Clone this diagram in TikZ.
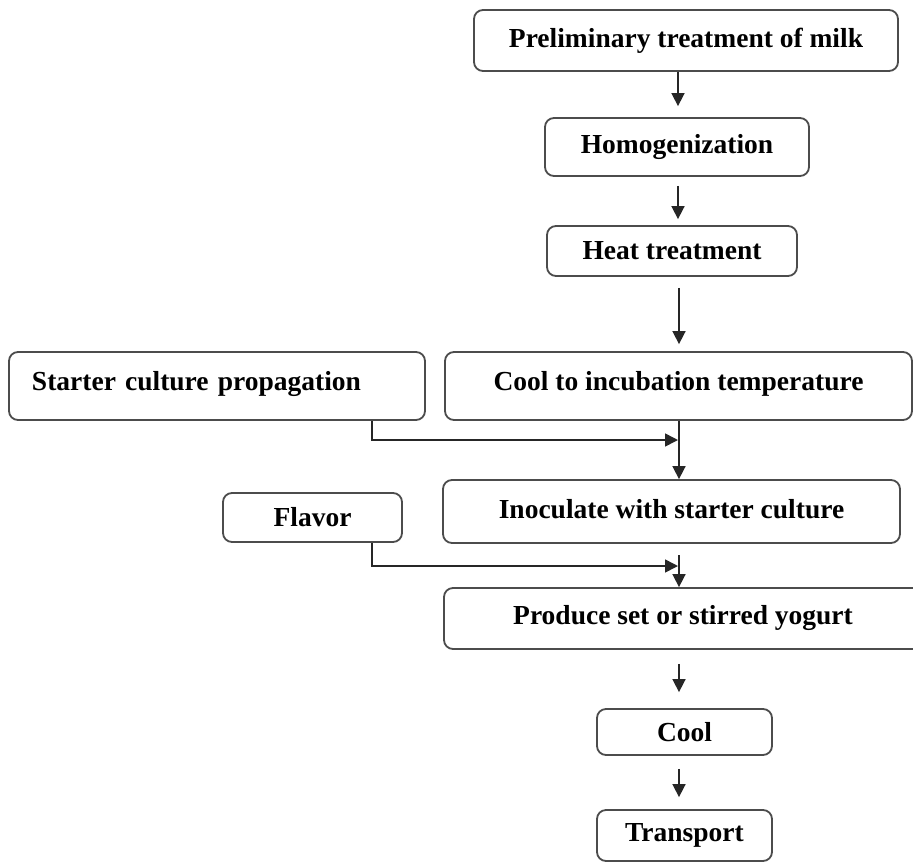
\documentclass[tikz,border=0pt]{standalone}
\usepackage{fontspec}
\setmainfont{Liberation Serif}
\usetikzlibrary{arrows.meta,calc}
\begin{document}
\begin{tikzpicture}[x=1pt,y=-1pt,
  box/.style={draw=black!70,line width=1.8pt,rounded corners=9pt,inner sep=0pt,
    font=\fontsize{27.5}{30}\selectfont\bfseries,text=black},
  arr/.style={draw=black!85,line width=1.6pt,-{Triangle[length=13pt,width=13pt]}},
  ln/.style={draw=black!85,line width=1.6pt}]
\useasboundingbox (0,0) rectangle (913,863);
\fill[white] (0,0) rectangle (913,863);
\coordinate (ax) at (678,0);
\coordinate (bx) at (679,0);
\coordinate (cx) at (372,0);
% boxes
\node[box,minimum width=424pt,minimum height=61pt] (p1) at (686,40.5) {Preliminary treatment of milk};
\node[box,minimum width=264pt,minimum height=58pt] (p2) at (677,147) {Homogenization};
\node[box,minimum width=250pt,minimum height=50pt] (p3) at (672,251) {Heat treatment};
\node[box,minimum width=467pt,minimum height=68pt,text depth=10pt] (p4) at (678.5,386) {Cool to incubation temperature};
\node[box,minimum width=416pt,minimum height=68pt,text width=416pt,align=left,text depth=10pt] (st) at (217,386) {\hspace*{23pt}Starter culture propagation};
\node[box,minimum width=457pt,minimum height=63pt,text depth=6pt] (p5) at (671.5,511.5) {Inoculate with starter culture};
\node[box,minimum width=179pt,minimum height=49pt] (fl) at (312.5,517.5) {Flavor};
\node[box,minimum width=478pt,minimum height=61pt,text depth=8pt] (p6) at (683,618.5) {Produce set or stirred yogurt};
\node[box,minimum width=175pt,minimum height=46pt] (p7) at (684.5,732) {Cool};
\node[box,minimum width=175pt,minimum height=51pt] (p8) at (684.5,835.5) {Transport};
% connectors
\draw[arr,shorten >=11pt] (ax |- p1.south) -- (ax |- p2.north);
\draw[arr,shorten <=9pt,shorten >=6pt] (ax |- p2.south) -- (ax |- p3.north);
\draw[arr,shorten <=11pt,shorten >=7pt] (bx |- p3.south) -- (bx |- p4.north);
\draw[arr] (bx |- p4.south) -- (bx |- p5.north);
\coordinate (sj) at (372,440);
\draw[arr] (cx |- st.south) -- (sj) -- (sj -| ax);
\coordinate (fj) at (372,566);
\draw[arr] (cx |- fl.south) -- (fj) -- (fj -| ax);
\coordinate (ft) at (679,555);
\draw[arr] (ft) -- (ft |- p6.north);
\draw[arr,shorten <=14pt,shorten >=16pt] (bx |- p6.south) -- (bx |- p7.north);
\draw[arr,shorten <=13pt,shorten >=12pt] (bx |- p7.south) -- (bx |- p8.north);
\end{tikzpicture}
\end{document}
